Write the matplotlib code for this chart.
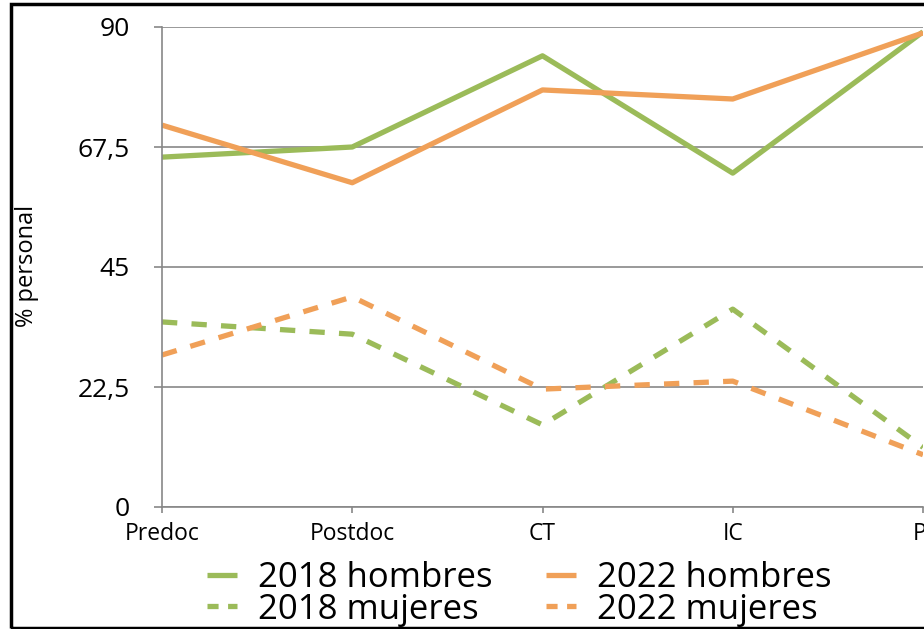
import matplotlib.pyplot as plt
from matplotlib.lines import Line2D
from matplotlib.patches import Rectangle

categorias = ['Predoc', 'Postdoc', 'CT', 'IC', 'PI']
hombres_2018 = [65.6, 67.5, 84.6, 62.6, 89.1]
hombres_2022 = [71.6, 60.8, 78.2, 76.5, 88.9]
mujeres_2018 = [34.7, 32.4, 15.4, 37.1, 11.2]
mujeres_2022 = [28.5, 39.4, 22.1, 23.6, 9.8]
y_ticks = [0, 22.5, 45, 67.5, 90]
y_tick_labels = ['0', '22,5', '45', '67,5', '90']

verde = '#9bbb59'
naranja = '#f0a058'
gris = '#878787'

plt.rcParams['font.family'] = ['Open Sans', 'DejaVu Sans']

fig = plt.figure(figsize=(9.24, 6.29), dpi=100)
ax = fig.add_axes([162 / 924, 1 - 507 / 629, 761 / 924, 480 / 629])

x = range(len(categorias))
lw = 3.8
ax.plot(x, hombres_2018, color=verde, lw=lw, solid_capstyle='butt')
ax.plot(x, mujeres_2018, color=verde, lw=lw, dashes=(2.9, 2.7), dash_capstyle='butt')
ax.plot(x, hombres_2022, color=naranja, lw=lw, solid_capstyle='butt')
ax.plot(x, mujeres_2022, color=naranja, lw=lw, dashes=(2.9, 2.7), dash_capstyle='butt')

ax.set_xlim(0, 4)
ax.set_ylim(0, 90)
ax.set_yticks(y_ticks)
ax.set_yticklabels(y_tick_labels, fontsize=19)
ax.set_xticks(list(x))
ax.set_xticklabels(categorias, fontsize=16.5)
ax.yaxis.grid(True, color=gris, lw=1.2)
ax.set_axisbelow(True)
for s in ['top', 'right']:
    ax.spines[s].set_visible(False)
for s in ['left', 'bottom']:
    ax.spines[s].set_color(gris)
    ax.spines[s].set_linewidth(1.2)
ax.tick_params(axis='y', length=6, color=gris, width=1.2, pad=17)
ax.tick_params(axis='x', length=4, color=gris, width=1.2, pad=7)
for lab in ax.get_xticklabels():
    lab.set_clip_on(False)

fig.text(27 / 924, 1 - 266 / 629, '% personal', rotation=90, fontsize=17,
         ha='center', va='center')

# legend handles with the shorter dash pattern seen in the legend
handles = [
    Line2D([], [], color=verde, lw=lw, solid_capstyle='butt'),
    Line2D([], [], color=verde, lw=lw, dashes=(2.1, 1.8), dash_capstyle='butt'),
    Line2D([], [], color=naranja, lw=lw, solid_capstyle='butt'),
    Line2D([], [], color=naranja, lw=lw, dashes=(2.1, 1.8), dash_capstyle='butt'),
]
labels = ['2018 hombres', '2018 mujeres', '2022 hombres', '2022 mujeres']
fig.legend(handles, labels, ncol=2, loc='center', bbox_to_anchor=(519 / 924, 1 - 594 / 629),
           frameon=False, fontsize=25, handlelength=0.86, handletextpad=0.6,
           columnspacing=1.55, labelspacing=-0.08, borderpad=0.1)

fig.patches.append(Rectangle((11 / 924, 1 / 629), 1.2, 1 - 5 / 629, transform=fig.transFigure,
                             fill=False, edgecolor='black', lw=2.5))

fig.savefig('out.png', dpi=100)
